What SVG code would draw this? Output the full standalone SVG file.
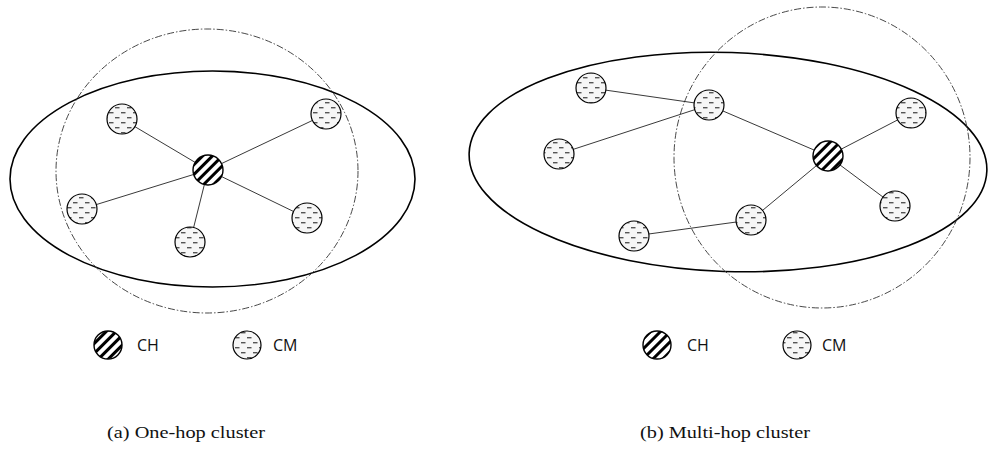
<svg xmlns="http://www.w3.org/2000/svg" width="1000" height="459" viewBox="0 0 1000 459">
<style>
.area{fill:none;stroke:#000;stroke-width:1.6}
.range{fill:none;stroke:#333;stroke-width:0.9;stroke-dasharray:7 2 1.5 2}
.edge{stroke:#222;stroke-width:0.9}
.ch{fill:url(#hatch);stroke:#000;stroke-width:1.4}
.cm{fill:url(#dash);stroke:#000;stroke-width:1.2}
.lbl{font-family:"Open Sans","Liberation Sans",sans-serif;font-size:16px;fill:#111}
.cap{font-family:"Liberation Serif","DejaVu Serif",serif;font-size:17px;fill:#111}
</style>
<defs>
<pattern id="hatch" patternUnits="userSpaceOnUse" width="7" height="7" patternTransform="rotate(45)">
<rect width="7" height="7" fill="#fff"/>
<rect width="3" height="7" fill="#000"/>
</pattern>
<pattern id="dash" patternUnits="userSpaceOnUse" width="12" height="10">
<rect width="12" height="10" fill="#f6f6f6"/>
<rect x="1" y="2" width="4.5" height="1.4" fill="#555"/>
<rect x="7" y="7" width="4.5" height="1.4" fill="#555"/>
</pattern>
</defs>

<g id="regions">
<ellipse class="area" cx="212.5" cy="179" rx="202.5" ry="108"/>
<ellipse class="range" cx="207" cy="171" rx="151" ry="142"/>
<ellipse class="area" cx="728" cy="162" rx="259" ry="109.5" transform="rotate(2 728 162)"/>
<ellipse class="range" cx="822" cy="157.5" rx="148" ry="150.5"/>
</g>

<g id="connectors">
<line class="edge" x1="208" y1="170" x2="122" y2="119"/>
<line class="edge" x1="208" y1="170" x2="326" y2="114"/>
<line class="edge" x1="208" y1="170" x2="82" y2="209"/>
<line class="edge" x1="208" y1="170" x2="190" y2="242"/>
<line class="edge" x1="208" y1="170" x2="307" y2="218"/>
<line class="edge" x1="591" y1="88" x2="709" y2="105"/>
<line class="edge" x1="559" y1="154" x2="709" y2="105"/>
<line class="edge" x1="709" y1="105" x2="828" y2="156"/>
<line class="edge" x1="828" y1="156" x2="911" y2="113"/>
<line class="edge" x1="828" y1="156" x2="895" y2="206"/>
<line class="edge" x1="828" y1="156" x2="751" y2="220"/>
<line class="edge" x1="751" y1="220" x2="634" y2="236"/>
</g>

<g id="a-ch"><circle class="ch" cx="208" cy="170" r="15"/></g>
<g id="a-cm1"><circle class="cm" cx="122" cy="119" r="15"/></g>
<g id="a-cm2"><circle class="cm" cx="326" cy="114" r="15"/></g>
<g id="a-cm3"><circle class="cm" cx="82" cy="209" r="15"/></g>
<g id="a-cm4"><circle class="cm" cx="190" cy="242" r="15"/></g>
<g id="a-cm5"><circle class="cm" cx="307" cy="218" r="15"/></g>

<g id="b-ch"><circle class="ch" cx="828" cy="156" r="15"/></g>
<g id="b-cm1"><circle class="cm" cx="591" cy="88" r="15"/></g>
<g id="b-cm2"><circle class="cm" cx="709" cy="105" r="15"/></g>
<g id="b-cm3"><circle class="cm" cx="559" cy="154" r="15"/></g>
<g id="b-cm4"><circle class="cm" cx="911" cy="113" r="15"/></g>
<g id="b-cm5"><circle class="cm" cx="895" cy="206" r="15"/></g>
<g id="b-cm6"><circle class="cm" cx="751" cy="220" r="15"/></g>
<g id="b-cm7"><circle class="cm" cx="634" cy="236" r="15"/></g>

<g id="legend-a">
<circle class="ch" cx="108" cy="345" r="14"/>
<text class="lbl" x="137" y="351">CH</text>
<circle class="cm" cx="247" cy="345" r="14"/>
<text class="lbl" x="273" y="351">CM</text>
</g>
<g id="legend-b">
<circle class="ch" cx="657" cy="345" r="14"/>
<text class="lbl" x="687" y="351">CH</text>
<circle class="cm" cx="797" cy="345" r="14"/>
<text class="lbl" x="822" y="351">CM</text>
</g>

<g id="captions">
<text class="cap" x="107" y="438" textLength="158" lengthAdjust="spacingAndGlyphs">(a) One-hop cluster</text>
<text class="cap" x="640" y="438" textLength="170" lengthAdjust="spacingAndGlyphs">(b) Multi-hop cluster</text>
</g>
</svg>
